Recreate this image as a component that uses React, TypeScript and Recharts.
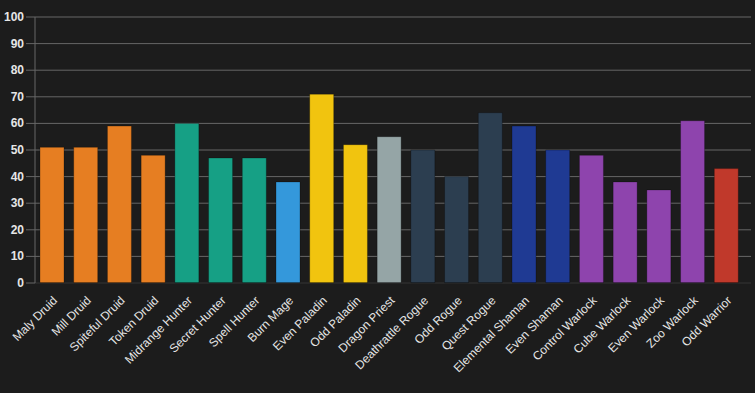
import React from "react";
import { BarChart, Bar, XAxis, YAxis, CartesianGrid, Cell } from "recharts";

const decks = [
  "Maly Druid", "Mill Druid", "Spiteful Druid", "Token Druid",
  "Midrange Hunter", "Secret Hunter", "Spell Hunter", "Burn Mage",
  "Even Paladin", "Odd Paladin", "Dragon Priest", "Deathrattle Rogue",
  "Odd Rogue", "Quest Rogue", "Elemental Shaman", "Even Shaman",
  "Control Warlock", "Cube Warlock", "Even Warlock", "Zoo Warlock", "Odd Warrior",
];
const winRates = [51, 51, 59, 48, 60, 47, 47, 38, 71, 52, 55, 50, 40, 64, 59, 50, 48, 38, 35, 61, 43];
const deckClasses = [
  "Druid", "Druid", "Druid", "Druid",
  "Hunter", "Hunter", "Hunter", "Mage",
  "Paladin", "Paladin", "Priest", "Rogue",
  "Rogue", "Rogue", "Shaman", "Shaman",
  "Warlock", "Warlock", "Warlock", "Warlock", "Warrior",
];
const classNames = ["Druid", "Hunter", "Mage", "Paladin", "Priest", "Rogue", "Shaman", "Warlock", "Warrior"];
const classColors = ["#E67E22", "#16A085", "#3498DB", "#F1C40F", "#95A5A6", "#2C3E50", "#1F3A93", "#8E44AD", "#C0392B"];
const yTicks = [0, 10, 20, 30, 40, 50, 60, 70, 80, 90, 100];

const data = decks.map((name, i) => ({
  name,
  value: winRates[i],
  color: classColors[classNames.indexOf(deckClasses[i])],
}));

const XTick = (props: any) => {
  const { x, y, payload } = props;
  const ax = x + 4;
  const ay = y + 8;
  return (
    <text
      x={ax}
      y={ay}
      transform={`rotate(-45, ${ax}, ${ay})`}
      textAnchor="end"
      dominantBaseline="middle"
      fill="#e6e6e6"
      fontSize={12}
      fontFamily="'Liberation Sans', Arial, sans-serif"
    >
      {payload.value}
    </text>
  );
};

const YTick = (props: any) => {
  const { x, y, payload } = props;
  return (
    <text
      x={x}
      y={y}
      textAnchor="end"
      dominantBaseline="central"
      fill="#e6e6e6"
      fontSize={12}
      fontWeight="bold"
      fontFamily="'Liberation Sans', Arial, sans-serif"
    >
      {payload.value}
    </text>
  );
};

export default function App() {
  return (
    <div style={{ position: "absolute", left: 0, top: 0, width: 755, height: 393, background: "#1c1c1c" }}>
      <BarChart
        width={755}
        height={393}
        data={data}
        margin={{ top: 17, right: 4, bottom: 0, left: 0 }}
        barCategoryGap={0}
      >
        <CartesianGrid vertical={false} stroke="#666666" strokeWidth={1} />
        <XAxis
          dataKey="name"
          interval={0}
          height={110}
          tick={<XTick />}
          tickLine={false}
          axisLine={{ stroke: "#111111", strokeWidth: 1 }}
          padding={{ left: 0, right: 8 }}
        />
        <YAxis
          domain={[0, 100]}
          ticks={yTicks}
          width={35}
          tick={<YTick />}
          tickSize={9}
          tickLine={{ stroke: "#666666" }}
          axisLine={{ stroke: "#666666" }}
        />
        <Bar dataKey="value" barSize={24} isAnimationActive={false} stroke="rgba(0,0,0,0.25)" strokeWidth={1}>
          {data.map((d, i) => (
            <Cell key={i} fill={d.color} />
          ))}
        </Bar>
      </BarChart>
    </div>
  );
}
